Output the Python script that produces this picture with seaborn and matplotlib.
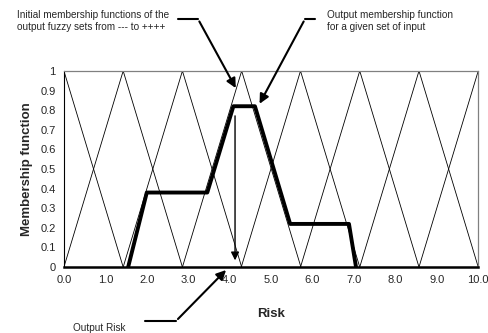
import numpy as np
import pandas as pd
import matplotlib.pyplot as plt
import seaborn as sns
from matplotlib.lines import Line2D

# Datos
picos = [0.0, 1.43, 2.86, 4.29, 5.71, 7.14, 8.57, 10.0]
ancho = 1.43
riesgo_salida = [1.55, 2.0, 3.46, 4.09, 4.61, 5.46, 6.88, 7.05]
membresia_salida = [0.0, 0.38, 0.38, 0.82, 0.82, 0.22, 0.22, 0.0]
riesgo_final = 4.13
x_ticks = [0.0, 1.0, 2.0, 3.0, 4.0, 5.0, 6.0, 7.0, 8.0, 9.0, 10.0]
y_ticks = [0, 0.1, 0.2, 0.3, 0.4, 0.5, 0.6, 0.7, 0.8, 0.9, 1]

sns.set_style('white')
plt.rcParams['font.family'] = ['Liberation Sans', 'DejaVu Sans']

fig = plt.figure(figsize=(4.88, 3.33), dpi=100)
ax = fig.add_axes([0.131, 0.198, 0.849, 0.589])

# Funciones de membresía iniciales (triángulos)
filas = []
for i, p in enumerate(picos):
    for x, y in [(p - ancho, 0), (p, 1), (p + ancho, 0)]:
        filas.append({'conjunto': i, 'x': x, 'y': y})
tri = pd.DataFrame(filas)
sns.lineplot(data=tri, x='x', y='y', units='conjunto', estimator=None, sort=False,
             color='black', linewidth=0.6, ax=ax)

# Función de membresía de salida
salida = pd.DataFrame({'x': riesgo_salida, 'y': membresia_salida})
sns.lineplot(data=salida, x='x', y='y', sort=False, color='black', linewidth=2.8, ax=ax)

# Flecha vertical del riesgo de salida
ax.annotate('', xy=(riesgo_final, 0.02), xytext=(riesgo_final, 0.785),
            arrowprops=dict(arrowstyle='-|>', color='black', lw=1.0, mutation_scale=12))

ax.set_xlim(0, 10)
ax.set_ylim(0, 1)
ax.set_xticks(x_ticks)
ax.set_xticklabels([f'{v:.1f}' for v in x_ticks], fontsize=8)
ax.set_yticks(y_ticks)
ax.set_yticklabels([f'{v:g}' for v in y_ticks], fontsize=8)
ax.tick_params(axis='both', direction='out', length=3, width=0.8, color='black', pad=3)
ax.set_xlabel('Risk', fontsize=9.5, fontweight='bold', labelpad=16)
ax.set_ylabel('Membership function', fontsize=9.5, fontweight='bold', labelpad=5)

for s in ['top', 'right']:
    ax.spines[s].set_color('#808080')
    ax.spines[s].set_linewidth(0.9)
ax.spines['left'].set_color('black')
ax.spines['left'].set_linewidth(0.8)
ax.spines['bottom'].set_color('black')
ax.spines['bottom'].set_linewidth(1.8)

# Anotaciones con flechas (coordenadas en píxeles de la figura)
H = 333
flecha = dict(arrowstyle='-|>', color='black', lw=1.5, mutation_scale=14)

fig.text(17 / 488, 1 - 21 / H, 'Initial membership functions of the\noutput fuzzy sets from --- to ++++',
         fontsize=7.2, va='center', ha='left', linespacing=1.35)
fig.add_artist(Line2D([178 / 488, 198 / 488], [1 - 19 / H, 1 - 19 / H], color='black', lw=1.5))
ax.annotate('', xy=(4.18, 0.90), xycoords='data', xytext=(198, H - 19), textcoords='figure pixels',
            arrowprops=flecha)

fig.text(327 / 488, 1 - 21 / H, 'Output membership function\nfor a given set of input',
         fontsize=7.2, va='center', ha='left', linespacing=1.35)
fig.add_artist(Line2D([305 / 488, 315 / 488], [1 - 19 / H, 1 - 19 / H], color='black', lw=1.5))
ax.annotate('', xy=(4.69, 0.82), xycoords='data', xytext=(305, H - 19), textcoords='figure pixels',
            arrowprops=flecha)

fig.text(73 / 488, 1 - 328 / H, 'Output Risk', fontsize=7.2, va='center', ha='left')
fig.add_artist(Line2D([145 / 488, 176 / 488], [1 - 321 / H, 1 - 321 / H], color='black', lw=1.5))
ax.annotate('', xy=(3.96, -0.005), xycoords='data', xytext=(176, H - 321), textcoords='figure pixels',
            arrowprops=flecha, annotation_clip=False)

fig.savefig('out.png', dpi=100)
